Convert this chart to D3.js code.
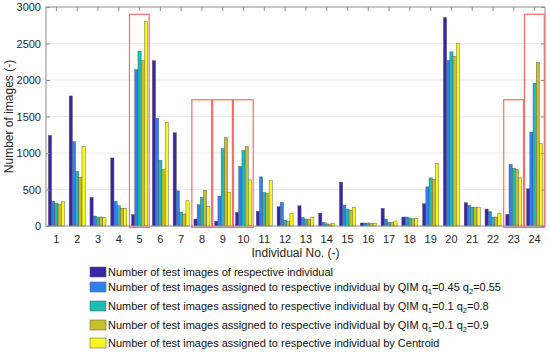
<!DOCTYPE html>
<html><head><meta charset="utf-8">
<script src="https://cdn.jsdelivr.net/npm/d3@7"></script>
<style>body{margin:0;background:#fff}svg{display:block;font-family:"Liberation Sans",Arial,sans-serif}</style>
</head><body>
<svg id="c" width="550" height="353"></svg>
<script>
const individuals = d3.range(1, 25).map(String);
const seriesNames = [
  "Number of test images of respective individual",
  "Number of test images assigned to respective individual by QIM q1=0.45 q2=0.55",
  "Number of test images assigned to respective individual by QIM q1=0.1 q2=0.8",
  "Number of test images assigned to respective individual by QIM q1=0.1 q2=0.9",
  "Number of test images assigned to respective individual by Centroid"
];
const actual   = [1240,1782,391,932,155,2264,1277,95,64,186,200,264,277,177,600,41,241,123,305,2855,318,232,159,509];
const qim045   = [341,1155,136,336,2141,1473,482,291,409,814,673,323,118,50,286,41,95,123,536,2268,286,195,845,1286];
const qim01_08 = [309,750,123,277,2395,900,191,391,1059,1032,459,82,95,27,232,36,50,109,659,2386,259,123,791,1955];
const qim01_09 = [295,668,123,241,2264,773,164,491,1209,1091,445,59,91,27,218,32,45,100,641,2323,250,123,773,2241];
const centroid = [336,1091,118,241,2805,1418,345,264,464,632,623,173,118,36,255,36,68,100,859,2505,259,177,659,1127];
const series = [actual, qim045, qim01_08, qim01_09, centroid];
const colors = ["#3a26a6", "#3180f2", "#1cbdb6", "#c8bf2e", "#f7f71c"];
const yTicks = [0,500,1000,1500,2000,2500,3000];
const highlighted = ["5","8","9","10","23","24"];
const highlightTop = [2900,1730,1730,1730,1730,2900];

const svg = d3.select("#c");
const L = 46, R = 545, T = 7, B = 226;
const x = d3.scaleBand().domain(individuals).range([L, R]).padding(0);
const y = d3.scaleLinear().domain([0, 3000]).range([B, T]);
const groupW = x.bandwidth() * 0.77;
const xs = d3.scaleBand().domain(d3.range(5)).range([0, groupW]).padding(0);

// grid
svg.append("g").selectAll("line").data(yTicks.slice(1, -1)).join("line")
  .attr("x1", L).attr("x2", R).attr("y1", d => y(d)).attr("y2", d => y(d))
  .attr("stroke", "#ebebeb").attr("stroke-width", 1);

// bars
const g = svg.append("g");
series.forEach((vals, si) => {
  g.append("g").selectAll("rect").data(vals).join("rect")
    .attr("x", (d, i) => x(individuals[i]) + (x.bandwidth() - groupW) / 2 + xs(si))
    .attr("y", d => y(d))
    .attr("width", xs.bandwidth())
    .attr("height", d => B - y(d))
    .attr("fill", colors[si])
    .attr("stroke", "#4a4a4a").attr("stroke-width", 0.4);
});

// axes box
const yAxL = d3.axisLeft(y).tickValues(yTicks).tickSize(-4).tickPadding(5).tickFormat(d3.format("d"));
const yAxR = d3.axisRight(y).tickValues(yTicks).tickSize(-4).tickFormat("");
const xAxB = d3.axisBottom(x).tickSize(-4).tickPadding(9);
const xAxT = d3.axisTop(x).tickSize(-4).tickFormat("");
function style(sel){
  sel.select(".domain").attr("stroke", "#8c8c8c");
  sel.selectAll(".tick line").attr("stroke", "#8c8c8c");
  sel.selectAll("text").attr("fill", "#262626").attr("font-size", 11).attr("font-family", '"Liberation Sans",Arial,sans-serif');
}
svg.append("g").attr("transform", `translate(${L},0)`).call(yAxL).call(style);
svg.append("g").attr("transform", `translate(${R},0)`).call(yAxR).call(style);
svg.append("g").attr("transform", `translate(0,${B})`).call(xAxB).call(style);
svg.append("g").attr("transform", `translate(0,${T})`).call(xAxT).call(style);
svg.selectAll(".domain").attr("d", null);
svg.append("rect").attr("x", L).attr("y", T).attr("width", R - L).attr("height", B - T)
  .attr("fill", "none").attr("stroke", "#8c8c8c").attr("stroke-width", 1);

// highlight rectangles
svg.append("g").selectAll("rect").data(highlighted).join("rect")
  .attr("x", d => x(d) + 0.3)
  .attr("y", (d, i) => y(highlightTop[i]))
  .attr("width", x.bandwidth() - 1)
  .attr("height", (d, i) => y(-20) - y(highlightTop[i]))
  .attr("fill", "none").attr("stroke", "#ff6b6b").attr("stroke-width", 1.2);

// axis labels
svg.append("text").attr("x", (L + R) / 2).attr("y", 257).attr("text-anchor", "middle")
  .attr("font-size", 12).attr("fill", "#262626").text("Individual No. (-)");
svg.append("text").attr("transform", `translate(13,${(T + B) / 2}) rotate(-90)`).attr("text-anchor", "middle")
  .attr("font-size", 12).attr("fill", "#262626").text("Number of images (-)");

// legend
const legY = [272, 287, 306, 325, 343];
const leg = svg.append("g");
seriesNames.forEach((name, i) => {
  leg.append("rect").attr("x", 90).attr("y", legY[i] - 5).attr("width", 16).attr("height", 10)
    .attr("fill", colors[i]).attr("stroke", "#555").attr("stroke-width", 0.5);
  const t = leg.append("text").attr("x", 108).attr("y", legY[i] + 4).attr("font-size", 11).attr("fill", "#111");
  const m = name.match(/^(.*QIM )q1=([\d.]+) q2=([\d.]+)$/);
  if (m) {
    t.append("tspan").text(m[1] + "q");
    t.append("tspan").attr("font-size", 7.5).attr("dy", 3).text("1");
    t.append("tspan").attr("dy", -3).text("=" + m[2] + " q");
    t.append("tspan").attr("font-size", 7.5).attr("dy", 3).text("2");
    t.append("tspan").attr("dy", -3).text("=" + m[3]);
  } else t.text(name);
});
</script>
</body></html>
